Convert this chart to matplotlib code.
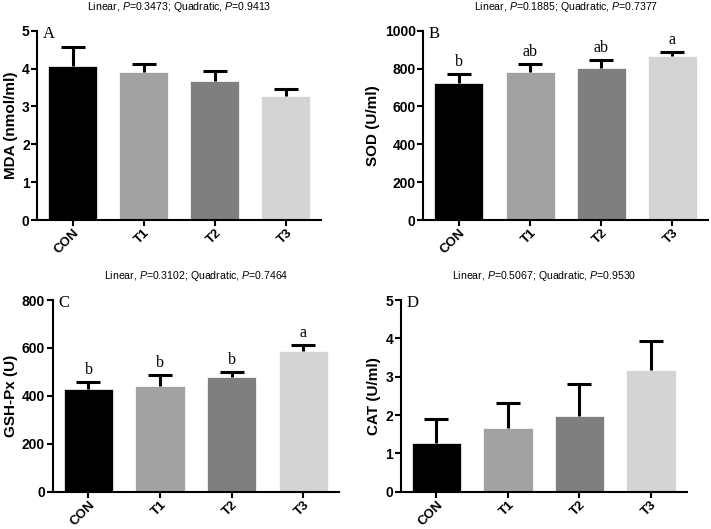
import matplotlib
matplotlib.use("Agg")
import matplotlib.pyplot as plt
import numpy as np

plt.rcParams['font.family'] = ['Liberation Sans', 'DejaVu Sans']
plt.rcParams['mathtext.fontset'] = 'custom'
plt.rcParams['mathtext.rm'] = 'Liberation Sans'
plt.rcParams['mathtext.it'] = 'Liberation Sans:italic'

groups = ["CON", "T1", "T2", "T3"]
colors = ["#000000", "#a2a2a2", "#7f7f7f", "#d4d4d4"]

mda_mean = [4.08, 3.91, 3.67, 3.27]
mda_err = [0.50, 0.20, 0.26, 0.19]
sod_mean = [725, 783, 803, 866]
sod_err = [46, 41, 41, 21]
gsh_mean = [430, 442, 479, 587]
gsh_err = [29, 44, 19, 25]
cat_mean = [1.26, 1.66, 1.97, 3.17]
cat_err = [0.64, 0.66, 0.83, 0.76]

sod_letters = ["b", "ab", "ab", "a"]
gsh_letters = ["b", "b", "b", "a"]

titles = [
    r"Linear, $\it{P}$=0.3473; Quadratic, $\it{P}$=0.9413",
    r"Linear, $\it{P}$=0.1885; Quadratic, $\it{P}$=0.7377",
    r"Linear, $\it{P}$=0.3102; Quadratic, $\it{P}$=0.7464",
    r"Linear, $\it{P}$=0.5067; Quadratic, $\it{P}$=0.9530",
]
ylabels = ["MDA (nmol/ml)", "SOD (U/ml)", "GSH-Px (U)", "CAT (U/ml)"]
panel_letters = ["A", "B", "C", "D"]
ymaxes = [5, 1000, 800, 5]
ysteps = [1, 200, 200, 1]

W, H = 711, 529
fig = plt.figure(figsize=(W / 100, H / 100), dpi=100)

# axes rectangles in pixel coords: left, right, top, bottom
rects_px = [
    (37.3, 321.5, 30.7, 220.0),
    (423.3, 708.0, 30.7, 220.0),
    (52.7, 339.0, 300.0, 491.7),
    (400.7, 686.7, 300.0, 491.7),
]

panels = [
    (mda_mean, mda_err, None),
    (sod_mean, sod_err, sod_letters),
    (gsh_mean, gsh_err, gsh_letters),
    (cat_mean, cat_err, None),
]

x = np.arange(len(groups))
for i, ((means, errs, letters), (l, r, t, b)) in enumerate(zip(panels, rects_px)):
    ax = fig.add_axes([l / W, 1 - b / H, (r - l) / W, (b - t) / H])
    ax.bar(x, means, width=0.69, color=colors, edgecolor='white', linewidth=0.5, zorder=2)
    eb = ax.errorbar(x, means, yerr=[np.zeros(len(errs)), errs], fmt='none',
                     ecolor='black', elinewidth=2.2, capsize=8.5, capthick=2.2, zorder=3)
    # hide the lower caps (only upper error bars are shown)
    caps = eb[1]
    if len(caps) == 2:
        caps[0].set_visible(False)
    ax.set_xlim(-0.5, 3.5)
    ax.set_ylim(0, ymaxes[i])
    ax.set_yticks(np.arange(0, ymaxes[i] + ysteps[i] / 2, ysteps[i]))
    ax.set_xticks(x)
    ax.set_xticklabels(groups, rotation=45, ha='right', rotation_mode='anchor',
                       fontweight='bold', fontsize=9.5)
    for lab in ax.get_yticklabels():
        lab.set_fontweight('bold')
        lab.set_fontsize(10)
    ax.spines['top'].set_visible(False)
    ax.spines['right'].set_visible(False)
    ax.spines['left'].set_linewidth(1.5)
    ax.spines['bottom'].set_linewidth(1.5)
    ax.tick_params(axis='both', direction='out', length=4, width=1.5, pad=1.5)
    ax.tick_params(axis='x', pad=1.0)
    ax.set_ylabel(ylabels[i], fontweight='bold', fontsize=11, labelpad=3)
    ax.annotate(titles[i], xy=(0.5, 1), xycoords='axes fraction',
                xytext=(0, 17.0), textcoords='offset points',
                ha='center', va='center', fontsize=7.6)
    ax.text(0.02, 0.985, panel_letters[i], transform=ax.transAxes,
            ha='left', va='center', fontsize=12, family='Liberation Serif')
    if letters is not None:
        for xi, m, e, s in zip(x, means, errs, letters):
            ax.annotate(s, xy=(xi, m + e), xytext=(0, 3), textcoords='offset points',
                        ha='center', va='bottom', fontsize=11.5, family='Liberation Serif')

fig.savefig("out.png", dpi=100)
